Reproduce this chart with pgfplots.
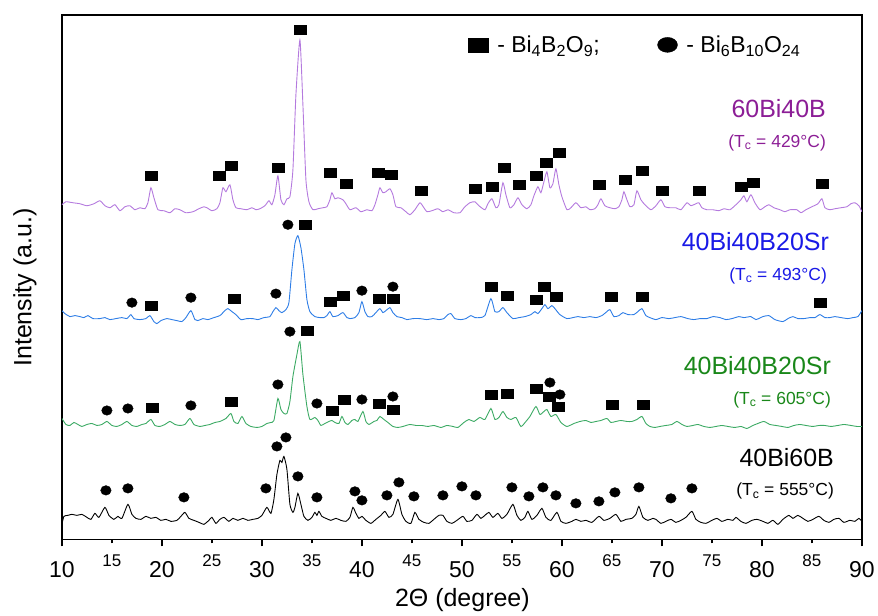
\documentclass[border=0pt]{standalone}
\usepackage{fontspec}
\setmainfont{Liberation Sans}
\usepackage{pgfplots}
\pgfplotsset{compat=1.18}
\definecolor{purpLine}{RGB}{180,122,222}
\definecolor{purpText}{RGB}{140,30,150}
\definecolor{blueLine}{RGB}{45,125,230}
\definecolor{blueText}{RGB}{25,25,230}
\definecolor{greenLine}{RGB}{60,170,100}
\definecolor{greenText}{RGB}{25,135,25}
\begin{document}
\begin{tikzpicture}
\begin{axis}[
  scale only axis, width=801pt, height=525pt,
  xmin=10, xmax=90, ymin=15, ymax=540, y dir=reverse,
  axis line style={line width=1.2pt},
  ytick=\empty,
  xtick={10,20,...,90},
  extra x ticks={15,25,...,85},
  extra x tick style={major tick length=4pt, xticklabel style={font=\fontsize{17}{17}\selectfont, yshift=4pt}},
  major tick length=7pt,
  tick align=outside, xtick pos=lower,
  tick style={line width=1.2pt, black},
  xticklabel style={font=\fontsize{23}{23}\selectfont, yshift=-12pt},
  /pgf/number format/assume math mode=true,
  xlabel={2Θ (degree)}, ylabel={Intensity (a.u.)},
  label style={font=\fontsize{25}{25}\selectfont},
  xlabel style={at={(axis description cs:0.5006,-0.116)}, anchor=center},
  ylabel style={at={(axis description cs:-0.0462,0.48)}, anchor=center},
  legend style={draw=none, fill=none, at={(axis description cs:0.504,0.943)}, anchor=west,
    legend columns=2, font=\fontsize{23}{23}\selectfont,
    /tikz/every odd column/.append style={column sep=7pt},
    /tikz/every even column/.append style={column sep=56pt}},
]
\addlegendimage{only marks, mark=square*, black, mark size=7pt, every mark/.append style={xscale=1.43}}
\addlegendentry{- Bi\textsubscript{4}B\textsubscript{2}O\textsubscript{9};}
\addlegendimage{only marks, mark=*, black, mark size=7.5pt, every mark/.append style={xscale=1.33}}
\addlegendentry{- Bi\textsubscript{6}B\textsubscript{10}O\textsubscript{24}}

% 60Bi40B
\addplot[purpLine, line width=0.9pt, smooth, tension=0.35, forget plot] coordinates {
(10.0,205) (10.4,202) (11.1,203) (11.8,204) (12.5,206) (13.2,204) (13.8,201) (14.3,206) (14.8,208) (15.3,205) (15.8,211) (16.3,207) (16.8,206) (17.3,210) (17.8,208) (18.3,209) (18.6,203) (18.9,188) (19.2,198) (19.6,210) (20.2,211) (20.8,213) (21.3,209) (21.8,210) (22.4,213) (23.1,212) (23.7,209) (24.2,207) (24.5,208) (25.0,211) (25.5,209) (25.8,203) (26.1,188) (26.4,192) (26.8,185) (27.1,200) (27.4,208) (27.9,209) (28.5,210) (29.0,208) (29.4,210) (29.8,209) (30.3,206) (30.7,201) (31.0,205) (31.3,195) (31.6,176) (31.9,200) (32.2,205) (32.5,199) (32.8,197) (33.1,170) (33.4,95) (33.8,40) (34.1,105) (34.4,180) (34.7,202) (35.1,210) (35.6,209) (36.1,208) (36.5,207) (36.8,200) (37.0,193) (37.3,199) (37.6,198) (38.1,200) (38.4,204) (38.8,210) (39.4,208) (39.9,212) (40.5,210) (41.0,211) (41.3,205) (41.6,195) (41.8,188) (42.1,193) (42.4,192) (42.8,189) (43.1,195) (43.4,207) (43.9,208) (44.4,212) (44.8,215) (45.3,210) (45.8,203) (46.2,208) (46.5,212) (47.0,211) (47.6,209) (48.1,212) (48.6,210) (49.2,213) (49.8,213) (50.3,207) (50.8,203) (51.3,202) (51.7,206) (52.3,210) (52.6,204) (53.0,199) (53.4,208) (53.7,205) (54.1,183) (54.4,195) (54.8,208) (55.2,205) (55.6,198) (56.0,205) (56.5,209) (56.9,205) (57.2,196) (57.6,187) (57.9,193) (58.2,182) (58.5,172) (58.8,188) (59.1,184) (59.4,169) (59.7,185) (60.0,197) (60.5,210) (60.9,208) (61.4,203) (61.9,208) (62.4,207) (62.8,210) (63.3,209) (63.6,205) (63.9,199) (64.3,206) (64.8,208) (65.3,209) (65.7,207) (66.0,200) (66.2,192) (66.5,200) (66.8,207) (67.2,205) (67.5,191) (67.9,200) (68.3,205) (68.9,210) (69.4,206) (69.9,200) (70.3,207) (70.8,208) (71.4,208) (71.9,210) (72.5,203) (72.9,206) (73.4,204) (73.7,203) (74.0,208) (74.5,210) (75.1,210) (75.7,211) (76.2,209) (76.8,210) (77.4,205) (77.9,200) (78.2,196) (78.5,202) (78.9,195) (79.3,203) (79.8,210) (80.3,207) (80.7,205) (81.2,208) (81.8,210) (82.3,212) (82.8,210) (83.5,210) (83.9,213) (84.4,210) (85.0,207) (85.6,204) (86.0,199) (86.3,208) (86.8,210) (87.3,209) (87.9,208) (88.5,207) (88.9,204) (89.3,203) (89.7,206) (90.0,212)
};
% 40Bi40B20Sr (493)
\addplot[blueLine, line width=0.9pt, smooth, tension=0.35, forget plot] coordinates {
(10.0,311) (10.3,314) (10.8,317) (11.3,316) (11.8,317) (12.2,318) (12.6,316) (13.1,319) (13.8,319) (14.3,318) (14.8,320) (15.4,319) (16.0,318) (16.5,319) (16.9,315) (17.2,319) (17.8,320) (18.4,319) (18.8,316) (19.2,322) (19.5,324) (19.9,321) (20.5,319) (21.0,320) (21.5,321) (22.0,322) (22.4,318) (22.9,311) (23.3,320) (23.6,321) (24.1,319) (24.6,320) (25.2,318) (25.8,316) (26.3,311) (26.6,309) (27.0,312) (27.4,315) (27.9,320) (28.5,319) (29.1,319) (29.6,320) (30.2,318) (30.8,317) (31.1,312) (31.4,308) (31.7,311) (32.0,313) (32.4,310) (32.7,303) (33.0,270) (33.3,244) (33.6,236) (33.9,248) (34.2,270) (34.5,300) (34.8,312) (35.3,317) (35.8,318) (36.2,318) (36.5,316) (36.8,312) (37.1,317) (37.6,316) (38.1,313) (38.5,318) (38.8,319) (39.3,318) (39.7,313) (40.0,302) (40.3,312) (40.6,317) (41.0,317) (41.4,313) (41.8,309) (42.1,313) (42.4,311) (42.8,308) (43.1,313) (43.5,317) (44.0,318) (44.5,320) (45.1,319) (45.8,319) (46.5,320) (47.1,319) (47.7,320) (48.2,319) (48.6,315) (48.9,314) (49.3,319) (49.9,320) (50.4,319) (50.9,316) (51.3,318) (51.8,318) (52.3,316) (52.9,299) (53.3,312) (53.7,312) (54.1,308) (54.5,313) (55.1,319) (55.7,318) (56.3,317) (56.9,315) (57.3,312) (57.6,314) (58.0,309) (58.3,305) (58.6,309) (59.0,306) (59.3,309) (59.8,315) (60.5,319) (61.1,318) (61.6,317) (62.2,318) (62.8,317) (63.4,318) (64.0,316) (64.5,312) (64.8,310) (65.2,317) (65.7,316) (66.1,313) (66.6,315) (67.2,315) (67.6,312) (68.0,309) (68.4,316) (68.8,318) (69.4,320) (70.0,318) (70.7,319) (71.3,318) (71.9,317) (72.6,319) (73.2,320) (73.8,319) (74.5,319) (75.1,317) (75.8,318) (76.4,320) (77.0,319) (77.7,317) (78.2,318) (78.9,317) (79.4,320) (80.1,317) (80.7,316) (81.3,320) (82.1,322) (82.6,319) (83.1,317) (83.6,319) (84.2,319) (84.8,318) (85.3,318) (85.8,315) (86.3,318) (86.8,318) (87.3,317) (87.9,318) (88.6,319) (89.1,318) (89.6,317) (90.0,311)
};
% 40Bi40B20Sr (605)
\addplot[greenLine, line width=0.9pt, smooth, tension=0.35, forget plot] coordinates {
(10.0,419) (10.4,425) (10.8,426) (11.2,423) (11.6,425) (12.0,427) (12.5,425) (13.0,424) (13.5,426) (14.0,425) (14.5,422) (15.0,426) (15.5,427) (16.0,425) (16.5,422) (17.0,426) (17.5,427) (18.0,425) (18.4,424) (18.9,420) (19.3,426) (19.8,427) (20.3,425) (20.8,422) (21.3,425) (21.8,426) (22.3,425) (22.8,419) (23.2,425) (23.8,427) (24.3,426) (24.8,425) (25.3,423) (25.8,422) (26.4,419) (26.9,414) (27.2,422) (27.6,424) (28.0,417) (28.4,424) (28.9,427) (29.5,428) (30.0,427) (30.5,424) (30.9,423) (31.2,421) (31.6,399) (31.9,410) (32.2,414) (32.5,414) (32.8,402) (33.1,377) (33.5,355) (33.8,342) (34.1,375) (34.5,407) (34.8,420) (35.3,418) (35.6,421) (35.9,426) (36.3,424) (36.7,422) (37.0,421) (37.3,423) (37.7,424) (38.0,417) (38.3,423) (38.6,425) (39.0,421) (39.3,420) (39.6,422) (40.1,412) (40.4,422) (40.7,425) (41.2,422) (41.5,421) (41.8,417) (42.2,420) (42.6,423) (43.1,427) (43.6,428) (44.1,427) (44.8,425) (45.4,426) (46.0,426) (46.6,427) (47.2,426) (47.9,428) (48.5,426) (49.1,427) (49.6,428) (50.2,423) (50.7,420) (51.2,422) (51.8,418) (52.3,420) (52.9,409) (53.3,420) (53.7,418) (54.1,412) (54.5,418) (54.9,420) (55.4,418) (55.9,427) (56.4,422) (56.8,417) (57.4,407) (57.8,415) (58.2,412) (58.5,410) (58.9,417) (59.4,415) (59.9,423) (60.5,427) (61.2,424) (61.8,422) (62.4,421) (62.9,423) (63.4,422) (63.9,421) (64.5,419) (64.9,423) (65.4,422) (65.9,421) (66.5,422) (67.0,422) (67.5,420) (68.0,417) (68.4,424) (68.8,427) (69.3,428) (69.8,427) (70.4,426) (71.0,425) (71.5,422) (72.0,425) (72.5,427) (73.1,426) (73.6,425) (74.2,427) (74.8,428) (75.4,427) (76.0,426) (76.6,427) (77.3,428) (77.9,427) (78.5,429) (79.1,426) (79.6,424) (80.2,422) (80.8,425) (81.4,426) (82.0,427) (82.6,428) (83.2,426) (83.8,425) (84.4,426) (85.1,427) (85.7,426) (86.3,426) (86.9,427) (87.6,426) (88.2,425) (88.9,426) (89.5,427) (90.0,427)
};
% 40Bi60B
\addplot[black, line width=0.9pt, smooth, tension=0.35, forget plot] coordinates {
(10.0,525) (10.2,517) (10.6,516) (11.0,515) (11.5,516) (12.0,515) (12.5,518) (12.9,520) (13.3,514) (13.7,518) (14.3,508) (14.7,516) (15.2,520) (15.6,517) (16.0,519) (16.6,505) (17.0,515) (17.4,519) (17.9,520) (18.4,517) (18.9,519) (19.4,518) (19.9,521) (20.4,520) (20.9,522) (21.5,521) (21.9,517) (22.3,513) (22.7,519) (23.2,521) (23.7,523) (24.2,525) (24.7,521) (25.0,518) (25.4,524) (25.8,520) (26.2,518) (26.7,522) (27.1,519) (27.6,521) (28.1,519) (28.6,521) (29.1,520) (29.6,519) (30.0,516) (30.5,508) (30.9,514) (31.2,500) (31.5,475) (31.8,461) (32.0,463) (32.2,457) (32.5,470) (32.8,505) (33.1,513) (33.3,508) (33.6,494) (33.9,505) (34.2,517) (34.6,521) (35.0,518) (35.3,513) (35.5,516) (35.7,512) (36.0,517) (36.4,519) (36.9,521) (37.4,519) (37.9,521) (38.4,522) (38.8,518) (39.1,508) (39.4,514) (39.7,519) (40.0,517) (40.4,521) (40.9,524) (41.4,520) (41.9,516) (42.3,512) (42.7,518) (43.1,515) (43.6,500) (44.0,515) (44.4,522) (44.9,524) (45.3,513) (45.7,520) (46.2,523) (46.7,524) (47.2,520) (47.7,516) (48.1,516) (48.5,522) (49.0,524) (49.5,521) (50.1,517) (50.5,522) (51.0,521) (51.5,515) (51.9,519) (52.3,516) (52.7,513) (53.1,518) (53.6,514) (54.0,519) (54.5,515) (55.1,505) (55.5,516) (55.9,521) (56.3,518) (56.6,512) (57.0,520) (57.5,516) (58.0,509) (58.4,518) (58.9,521) (59.5,513) (59.9,522) (60.4,524) (61.0,522) (61.4,520) (61.9,522) (62.4,521) (63.0,523) (63.7,517) (64.2,521) (64.8,519) (65.4,515) (65.9,522) (66.4,520) (67.0,519) (67.4,515) (67.7,507) (68.1,518) (68.6,521) (69.1,519) (69.4,520) (69.9,524) (70.4,522) (70.9,520) (71.4,523) (71.9,521) (72.4,518) (73.0,512) (73.4,520) (73.9,523) (74.4,524) (75.0,521) (75.5,519) (76.0,522) (76.6,520) (77.1,521) (77.4,518) (77.9,522) (78.4,524) (79.0,521) (79.5,520) (80.1,522) (80.6,524) (81.1,521) (81.6,525) (82.1,520) (82.7,516) (83.1,519) (83.6,516) (84.1,519) (84.6,522) (85.1,520) (85.7,517) (86.2,521) (86.7,523) (87.2,520) (87.7,519) (88.2,523) (88.8,521) (89.3,522) (89.7,519) (90.0,522)
};

% square markers (Bi4B2O9)
\addplot[only marks, mark=square*, black, mark size=4.5pt, every mark/.append style={xscale=1.33}, forget plot] coordinates {
(18.9,176) (25.7,176) (26.9,166) (31.6,168) (33.8,30) (36.8,173) (38.4,184) (41.6,173) (42.9,175) (45.9,191) (51.3,189) (53.0,187) (54.2,168) (55.7,185) (57.4,176) (58.4,163) (59.7,153) (63.7,185) (66.3,180) (68.0,171) (70.0,191) (73.7,191) (77.9,187) (79.1,183) (86.0,184)
(18.9,306) (27.2,299) (34.3,225) (36.8,302) (38.1,296) (41.7,299) (43.1,299) (52.9,287) (54.5,296) (57.4,300) (58.2,287) (59.4,297) (64.9,297) (68.0,297) (85.8,303)
(19.0,408) (26.9,402) (34.5,331) (37.0,411) (38.2,400) (41.7,404) (43.1,410) (52.9,395) (54.5,394) (57.4,389) (58.7,397) (59.6,407) (65.0,405) (68.1,405)
};
% circle markers (Bi6B10O24)
\addplot[only marks, mark=*, black, mark size=4.8pt, every mark/.append style={xscale=1.1}, forget plot] coordinates {
(17.0,303) (22.9,298) (31.4,294) (32.6,225) (40.0,291) (43.1,287)
(14.5,411) (16.6,409) (22.9,406) (31.6,385) (32.8,332) (35.5,404) (40.0,400) (43.1,397) (58.8,383) (59.8,395)
(14.4,491) (16.6,489) (22.2,498) (30.4,489) (31.5,447) (32.4,438) (33.6,477) (35.5,498) (39.3,492) (40.0,501) (42.5,496) (43.7,483) (45.2,497) (48.1,496) (50.0,487) (51.4,496) (55.0,488) (56.7,497) (58.1,488) (59.4,496) (61.4,504) (63.7,502) (65.3,493) (67.7,488) (70.9,499) (73.0,489)
};

\node[anchor=east, inner sep=0pt, text=purpText, font=\fontsize{25}{25}\selectfont] at (axis cs:86.42,108.5) {60Bi40B};
\node[anchor=east, inner sep=0pt, text=purpText, font=\fontsize{17.5}{17.5}\selectfont] at (axis cs:86.42,143) {(T\textsubscript{c} = 429°C)};
\node[anchor=east, inner sep=0pt, text=blueText, font=\fontsize{25}{25}\selectfont] at (axis cs:86.72,242) {40Bi40B20Sr};
\node[anchor=east, inner sep=0pt, text=blueText, font=\fontsize{17.5}{17.5}\selectfont] at (axis cs:86.52,276) {(T\textsubscript{c} = 493°C)};
\node[anchor=east, inner sep=0pt, text=greenText, font=\fontsize{25}{25}\selectfont] at (axis cs:86.92,366) {40Bi40B20Sr};
\node[anchor=east, inner sep=0pt, text=greenText, font=\fontsize{17.5}{17.5}\selectfont] at (axis cs:86.92,400) {(T\textsubscript{c} = 605°C)};
\node[anchor=east, inner sep=0pt, text=black, font=\fontsize{25}{25}\selectfont] at (axis cs:87.22,458) {40Bi60B};
\node[anchor=east, inner sep=0pt, text=black, font=\fontsize{17.5}{17.5}\selectfont] at (axis cs:87.22,492) {(T\textsubscript{c} = 555°C)};
\end{axis}
\path ([xshift=-62pt,yshift=-68pt]current axis.south west) rectangle ([xshift=15pt,yshift=15pt]current axis.north east);
\end{tikzpicture}
\end{document}
